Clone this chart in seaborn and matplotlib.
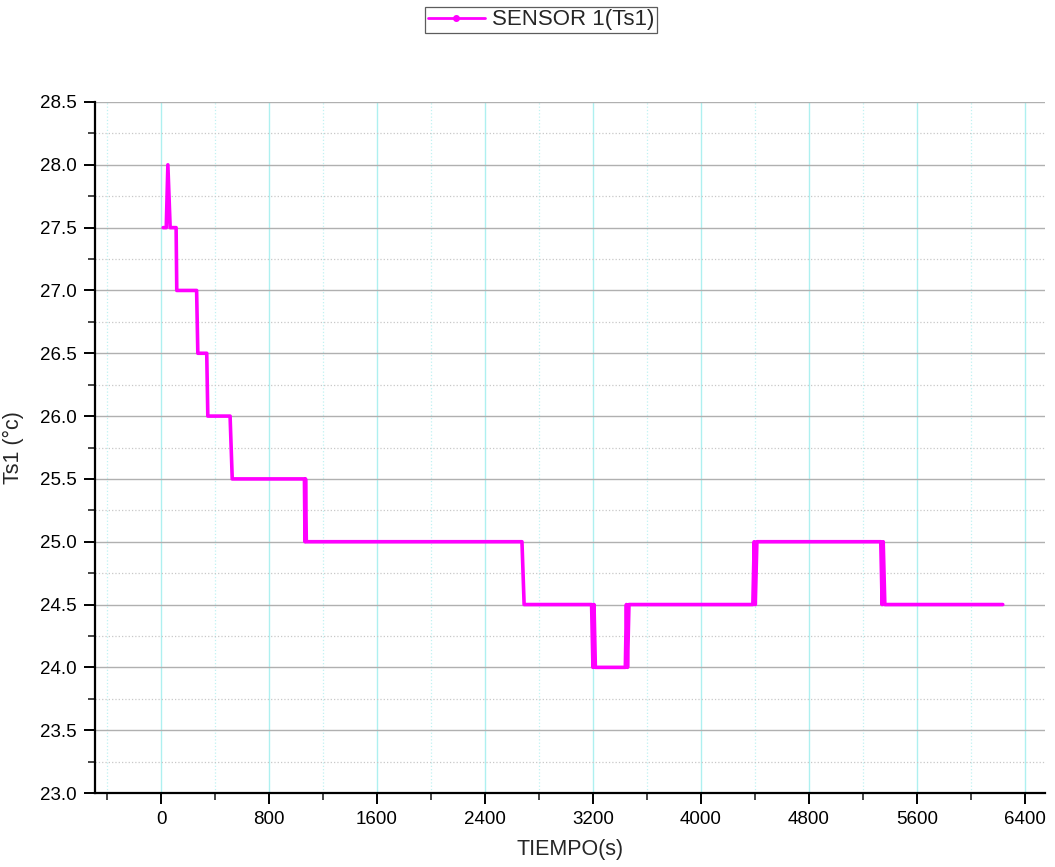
import matplotlib
matplotlib.use("Agg")
import matplotlib.pyplot as plt
from matplotlib.lines import Line2D
from matplotlib.ticker import MultipleLocator
import seaborn as sns
import pandas as pd

# Data
tiempo = [15, 38, 50, 67, 111, 116, 263, 272, 338, 346, 511, 527,
          1062, 1066, 1070, 1076, 2674, 2690,
          3190, 3200, 3208, 3218, 3440, 3448, 3456, 3467,
          4385, 4395, 4403, 4415, 5333, 5343, 5351, 5363, 6237]
ts1 = [27.5, 27.5, 28.0, 27.5, 27.5, 27.0, 27.0, 26.5, 26.5, 26.0, 26.0, 25.5,
       25.5, 25.0, 25.5, 25.0, 25.0, 24.5,
       24.5, 24.0, 24.5, 24.0, 24.0, 24.5, 24.0, 24.5,
       24.5, 25.0, 24.5, 25.0, 25.0, 24.5, 25.0, 24.5, 24.5]
series_label = "SENSOR 1(Ts1)"
x_ticks = [0, 800, 1600, 2400, 3200, 4000, 4800, 5600, 6400]

df = pd.DataFrame({"TIEMPO": tiempo, "Ts1": ts1})

sns.set_style("white")
plt.rcParams["font.family"] = ["Liberation Sans", "DejaVu Sans"]

fig = plt.figure(figsize=(10.55, 8.67), dpi=100)
ax = fig.add_axes([95/1055, 1-793/867, (1045-95)/1055, (793-102)/867])

sns.lineplot(data=df, x="TIEMPO", y="Ts1", ax=ax, color="#ff00ff",
             linewidth=2.6, estimator=None, sort=False, zorder=5)

ax.set_xlim(-490, 6550)
ax.set_ylim(23.0, 28.5)
ax.set_xticks(x_ticks)
ax.xaxis.set_minor_locator(MultipleLocator(400))
ax.yaxis.set_major_locator(MultipleLocator(0.5))
ax.yaxis.set_minor_locator(MultipleLocator(0.25))
ax.yaxis.set_major_formatter(matplotlib.ticker.FormatStrFormatter("%.1f"))

ax.grid(which="major", axis="x", color="#aef0f0", linewidth=1.0, linestyle="-")
ax.grid(which="minor", axis="x", color="#c0f2f2", linewidth=0.9, linestyle=":")
ax.grid(which="major", axis="y", color="#b0b0b0", linewidth=1.0, linestyle="-")
ax.grid(which="minor", axis="y", color="#c8c8c8", linewidth=0.9, linestyle=":")
ax.set_axisbelow(True)

for s in ["top", "right"]:
    ax.spines[s].set_visible(False)
for s in ["left", "bottom"]:
    ax.spines[s].set_color("black")
    ax.spines[s].set_linewidth(1.6)

ax.tick_params(which="major", direction="out", length=8, width=1.4, labelsize=13.5,
               colors="black", bottom=True, left=True, pad=5)
ax.tick_params(which="minor", direction="out", length=5, width=1.2,
               bottom=True, left=True)

ax.set_xlabel("TIEMPO(s)", fontsize=15.5, labelpad=8)
ax.set_ylabel("Ts1 (°c)", fontsize=15.5, labelpad=12)

handle = Line2D([], [], color="#ff00ff", linewidth=2, marker="o", markersize=4)
leg = fig.legend([handle], [series_label], loc="center",
                 bbox_to_anchor=(541/1055, 1-20/867), frameon=True,
                 fontsize=16, handlelength=2.6, handletextpad=0.3,
                 borderpad=0.12, fancybox=False, edgecolor="#333333")
leg.get_frame().set_linewidth(0.9)

fig.savefig("out.png", dpi=100)
